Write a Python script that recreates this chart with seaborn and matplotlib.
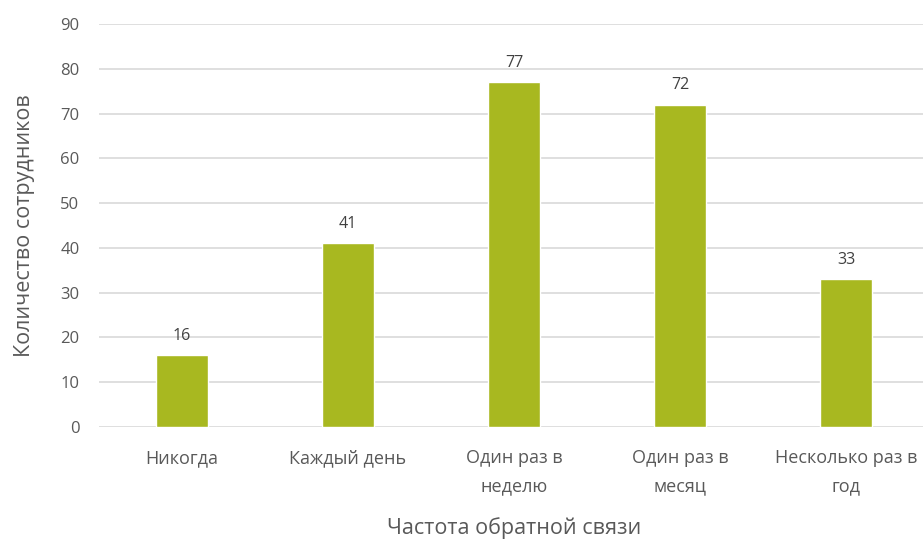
import matplotlib
matplotlib.use("Agg")
import matplotlib.pyplot as plt
import seaborn as sns
import pandas as pd

categories = ["Никогда", "Каждый день", "Один раз в\nнеделю", "Один раз в\nмесяц", "Несколько раз в\nгод"]
values = [16, 41, 77, 72, 33]
yticks = [0, 10, 20, 30, 40, 50, 60, 70, 80, 90]

sns.set_style("white")
plt.rcParams['font.family'] = ['Open Sans', 'DejaVu Sans']

df = pd.DataFrame({"cat": categories, "val": values})

fig = plt.figure(figsize=(9.23, 5.42), dpi=100)
ax = fig.add_axes([99/923, 1 - 427/542, 830/923, (427 - 24)/542])
ax.set_axisbelow(True)
for y in yticks:
    ax.axhline(y, color="#D9D9D9", lw=1.2, zorder=0)

sns.barplot(data=df, x="cat", y="val", color="#A8B820", width=0.31, ax=ax, saturation=1, zorder=2)

for i, v in enumerate(values):
    ax.text(i, v + 2.6, str(v), ha="center", va="bottom", fontsize=11.5, color="#404040")

ax.set_ylim(0, 90)
ax.set_xlim(-0.5, 4.5)
ax.set_yticks(yticks)
ax.tick_params(axis="y", length=0, pad=14, labelsize=12, labelcolor="#595959")
ax.tick_params(axis="x", length=0, pad=16, labelsize=13, labelcolor="#595959")
for lab in ax.get_xticklabels():
    lab.set_linespacing(1.7)
for s in ax.spines.values():
    s.set_visible(False)
ax.set_xlabel("Частота обратной связи", fontsize=15.5, color="#595959", labelpad=16)
ax.set_ylabel("Количество сотрудников", fontsize=15.5, color="#595959", labelpad=18)
fig.savefig("out.png", dpi=100)
